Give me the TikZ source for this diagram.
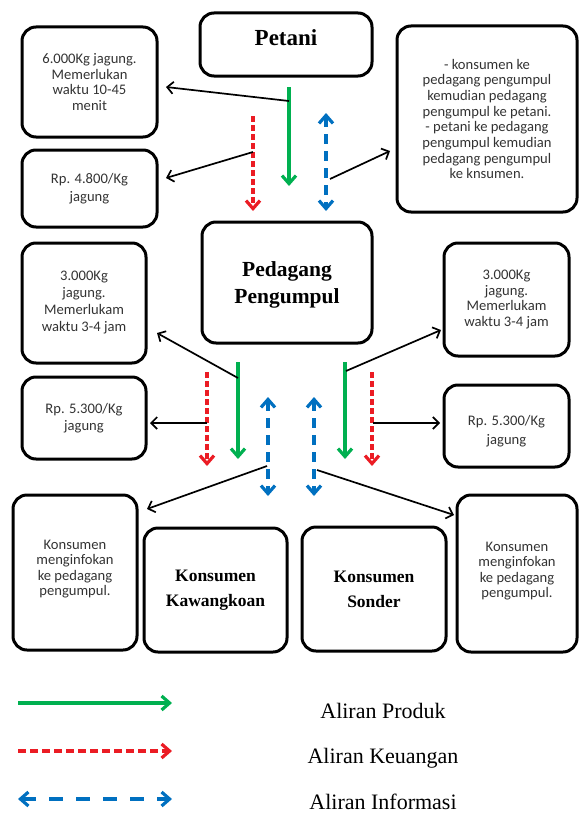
\documentclass[tikz,border=0pt]{standalone}
\usepackage{fontspec}
\setmainfont{Liberation Serif}
\newfontfamily\calfont{Carlito}
\usetikzlibrary{arrows.meta}
\definecolor{pgreen}{RGB}{0,176,80}
\definecolor{pred}{RGB}{235,28,36}
\definecolor{pblue}{RGB}{0,112,192}
\begin{document}
\begin{tikzpicture}[x=1pt,y=-1pt,
  box/.style={draw=black, line width=3pt, rounded corners=14pt, align=center, inner sep=0pt},
  small/.style={font=\calfont\fontsize{14.6}{15.6}\selectfont, text=black!80},
  title/.style={font=\bfseries\fontsize{21.5}{27}\selectfont, align=center},
  ttl/.style={font=\bfseries\fontsize{17.5}{25}\selectfont},
  leg/.style={font=\fontsize{22}{25}\selectfont},
  prod/.style={draw=pgreen, line width=3.2pt, -{Straight Barb[length=8pt,width=14pt]}},
  fin/.style={draw=pred, line width=3.2pt, dash pattern=on 6pt off 3pt, -{Straight Barb[length=8pt,width=14pt]}},
  info/.style={draw=pblue, line width=3.2pt, dash pattern=on 10pt off 7pt, {Straight Barb[length=8pt,width=14pt]}-{Straight Barb[length=8pt,width=14pt]}},
  note/.style={draw=black, line width=1.7pt, -{Straight Barb[length=6pt,width=12pt]}}
]
\useasboundingbox (0,0) rectangle (579,816);

% boxes
\node[box, minimum width=172pt, minimum height=63pt] (petani) at (286,44.5) {};
\node[title, font=\bfseries\fontsize{23}{27}\selectfont] (petaniT) at (286,38) {Petani};

\node[box, small, minimum width=135pt, minimum height=110pt] (a) at (89.5,82)
  {6.000Kg jagung.\\Memerlukan\\waktu 10-45\\menit};
\node[box, small, font=\calfont\fontsize{14.6}{17.5}\selectfont, minimum width=135pt, minimum height=77pt] (b) at (89.5,188.5)
  {Rp. 4.800/Kg\\jagung};
\node[box, small, font=\calfont\fontsize{14.6}{15.7}\selectfont, minimum width=180pt, minimum height=186pt] (c) at (487,119)
  {- konsumen ke\\pedagang pengumpul\\kemudian pedagang\\pengumpul ke petani.\\- petani ke pedagang\\pengumpul kemudian\\pedagang pengumpul\\ke knsumen.};

\node[box, title, minimum width=170pt, minimum height=121pt] (pp) at (287,282.5) {};
\node[title] (ppT) at (287,285) {Pedagang\\Pengumpul};

\node[box, small, font=\calfont\fontsize{14.6}{17}\selectfont, minimum width=124pt, minimum height=120pt] (d) at (84,303)
  {3.000Kg\\jagung.\\Memerlukam\\waktu 3-4 jam};
\node[box, small, font=\calfont\fontsize{14.6}{17.5}\selectfont, minimum width=124pt, minimum height=82pt] (e) at (84,418)
  {Rp. 5.300/Kg\\jagung};
\node[box, small, font=\calfont\fontsize{14.6}{15.6}\selectfont, minimum width=125pt, minimum height=113pt] (f) at (506.5,299.5)
  {3.000Kg\\jagung.\\Memerlukam\\waktu 3-4 jam};
\node[box, minimum width=125pt, minimum height=82pt] (g) at (506.5,426) {};
\node[small, font=\calfont\fontsize{14.6}{19}\selectfont, align=center] (gT) at (506.5,431)
  {Rp. 5.300/Kg\\jagung};

\node[box, minimum width=124pt, minimum height=155pt] (h) at (75,572.5) {};
\node[small, align=center] (hT) at (75,569) {Konsumen\\menginfokan\\ke pedagang\\pengumpul.};
\node[box, ttl, align=center, minimum width=143pt, minimum height=124pt] (kw) at (215.5,590) {Konsumen\\Kawangkoan};
\node[box, ttl, align=center, minimum width=144pt, minimum height=124pt] (so) at (374,589) {Konsumen\\Sonder};
\node[box, minimum width=120pt, minimum height=157pt] (i) at (517,573.5) {};
\node[small, align=center] (iT) at (517,571) {Konsumen\\menginfokan\\ke pedagang\\pengumpul.};

% top flows
\coordinate (g1s) at (289,87);  \coordinate (g1e) at (289,186);
\coordinate (r1s) at (253,116); \coordinate (r1e) at (253,211);
\coordinate (b1s) at (326,113); \coordinate (b1e) at (326,211);
\draw[prod] (g1s) -- (g1e);
\draw[fin] (r1s) -- (r1e);
\draw[info] (b1s) -- (b1e);
\coordinate (n1s) at (289,101); \coordinate (n1e) at (166,87);
\coordinate (n2s) at (253,152); \coordinate (n2e) at (166,178);
\coordinate (n3s) at (330,179); \coordinate (n3e) at (390,151);
\draw[note] (n1s) -- (n1e);
\draw[note] (n2s) -- (n2e);
\draw[note] (n3s) -- (n3e);

% middle flows
\coordinate (gLs) at (238,362); \coordinate (gLe) at (238,459);
\coordinate (rLs) at (207,372); \coordinate (rLe) at (207,466);
\coordinate (bLs) at (268,397); \coordinate (bLe) at (268,496);
\coordinate (bRs) at (314,397); \coordinate (bRe) at (314,496);
\coordinate (gRs) at (345,362); \coordinate (gRe) at (345,459);
\coordinate (rRs) at (372,372); \coordinate (rRe) at (372,466);
\draw[prod] (gLs) -- (gLe);
\draw[fin] (rLs) -- (rLe);
\draw[info] (bLs) -- (bLe);
\draw[info] (bRs) -- (bRe);
\draw[prod] (gRs) -- (gRe);
\draw[fin] (rRs) -- (rRe);

\coordinate (m1s) at (238,378); \coordinate (m1e) at (157,333);
\coordinate (m2s) at (207,423); \coordinate (m2e) at (150,423);
\coordinate (m3s) at (346,371); \coordinate (m3e) at (441,330);
\coordinate (m4s) at (373,423); \coordinate (m4e) at (440,423);
\coordinate (m5s) at (267,466); \coordinate (m5e) at (147,509);
\coordinate (m6s) at (317,470); \coordinate (m6e) at (454,515);
\draw[note] (m1s) -- (m1e);
\draw[note] (m2s) -- (m2e);
\draw[note] (m3s) -- (m3e);
\draw[note] (m4s) -- (m4e);
\draw[note] (m5s) -- (m5e);
\draw[note] (m6s) -- (m6e);

% legend
\coordinate (l1s) at (18,703); \coordinate (l1e) at (172,703);
\coordinate (l2s) at (18,751); \coordinate (l2e) at (172,751);
\coordinate (l3s) at (18,799); \coordinate (l3e) at (172,799);
\draw[prod] (l1s) -- (l1e);
\draw[fin, dash pattern=on 8pt off 4pt] (l2s) -- (l2e);
\draw[info, dash pattern=on 14pt off 13pt] (l3s) -- (l3e);
\node[leg] (t1) at (383,711) {Aliran Produk};
\node[leg] (t2) at (383,758) {Aliran Keuangan};
\node[leg] (t3) at (383,802) {Aliran Informasi};
\end{tikzpicture}
\end{document}
